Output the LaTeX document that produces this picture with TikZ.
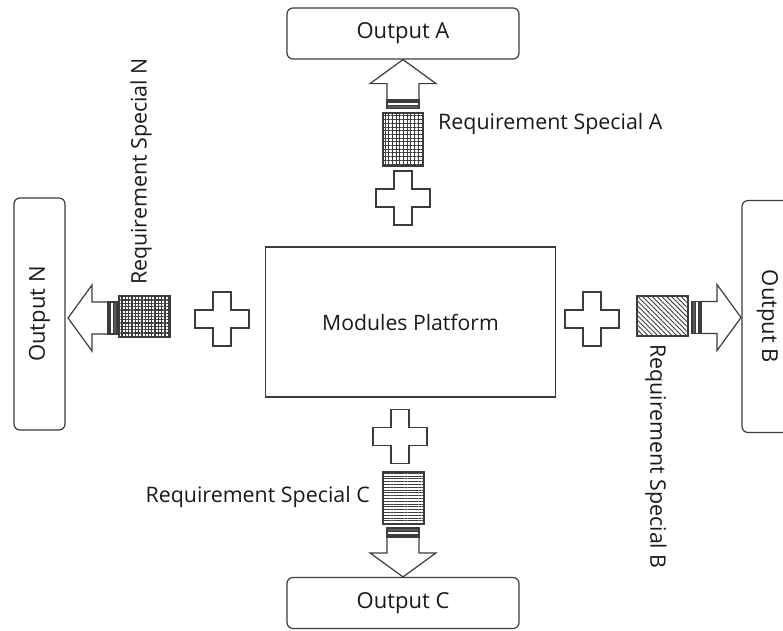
\documentclass[tikz,border=0pt]{standalone}
\usepackage{fontspec}
\setmainfont{Open Sans}
\usetikzlibrary{patterns.meta}

\definecolor{ink}{HTML}{3C3C3C}
\definecolor{txt}{HTML}{1A1A1A}

\tikzset{
  outline/.style={draw=ink, line width=1.2pt},
  outbox/.style={outline, rounded corners=6pt, minimum width=232pt, minimum height=51pt,
    inner sep=0pt, font=\fontsize{22}{26}\selectfont, text=txt},
  platform/.style={outline, minimum width=290pt, minimum height=150pt, inner sep=0pt,
    font=\fontsize{21.2}{25}\selectfont, text=txt},
  reqlabel/.style={font=\fontsize{21.4}{25}\selectfont, text=txt, inner sep=0pt},
  module/.style={outline, inner sep=0pt},
  gridfill/.style={pattern={Hatch[distance=3.7pt, angle=0, line width=0.5pt]}, pattern color=ink},
  dotfill/.style={pattern={Hatch[distance=3.3pt, angle=0, line width=1.3pt]}, pattern color=ink},
  diagfill/.style={pattern={Lines[distance=3.4pt, angle=-45, line width=0.9pt]}, pattern color=ink},
  rowfill/.style={pattern={Lines[distance=2.8pt, angle=0, line width=1pt]}, pattern color=ink},
  % striped block arrow: tip at the origin, tail along +x
  pics/stripedarrow/.style={code={
    \draw[outline, fill=white, line join=miter]
      (0,0) -- (24,33) -- (24,16) -- (40,16) -- (40,-16) -- (24,-16) -- (24,-33) -- cycle;
    \draw[outline, fill=ink] (40,-16) rectangle (42.5,16);
    \draw[outline] (42.5,16) -- (45.5,16) (42.5,-16) -- (45.5,-16);
    \draw[outline, fill=ink!85] (45.5,-16) rectangle (49,16);
  }},
  % plus sign, centred on the origin
  pics/plussign/.style={code={
    \draw[outline, fill=white]
      (-9,-27) -- (9,-27) -- (9,-9) -- (27,-9) -- (27,9) -- (9,9) -- (9,27)
      -- (-9,27) -- (-9,9) -- (-27,9) -- (-27,-9) -- (-9,-9) -- cycle;
  }},
}

\begin{document}
\begin{tikzpicture}[x=1pt, y=-1pt]
  \useasboundingbox (0,0) rectangle (783,630);

  % central platform
  \node[platform] (plat) at (410.5,322) {Modules Platform};

  % outputs
  \node[outbox] (outA) at (403,33.5) {Output A};
  \node[outbox] (outC) at (403,603) {Output C};
  \node[outbox, rotate=90] (outN) at (39.5,314) {Output N};
  \node[outbox, rotate=-90] (outB) at (767.5,316.5) {Output B};

  % plus signs next to the platform
  \pic at (403,198) {plussign};
  \pic at (222,319) {plussign};
  \pic at (592,319) {plussign};
  \pic at (400,436.5) {plussign};

  % special requirement modules
  \node[module, gridfill, minimum width=40pt, minimum height=53pt] (reqA) at (403,139.5) {};
  \node[module, dotfill, minimum width=51pt, minimum height=41pt] (reqN) at (144.5,316.5) {};
  \node[module, diagfill, minimum width=51pt, minimum height=40pt] (reqB) at (662.5,316) {};
  \node[module, rowfill, minimum width=41pt, minimum height=52pt] (reqC) at (403.5,498) {};

  % striped arrows towards the outputs
  \pic[rotate=-90] at (outA.south) {stripedarrow};
  \pic[rotate=90] at (outC.north) {stripedarrow};
  \pic at (68,318) {stripedarrow};
  \pic[rotate=180] at (741,317.5) {stripedarrow};

  % labels
  \node[reqlabel, anchor=west] (labA) at (438,124) {Requirement Special A};
  \node[reqlabel, anchor=east] (labC) at (370,497) {Requirement Special C};
  \node[reqlabel, rotate=90] (labN) at (141,171.5) {Requirement Special N};
  \node[reqlabel, rotate=-90] (labB) at (656,456.5) {Requirement Special B};
\end{tikzpicture}
\end{document}
